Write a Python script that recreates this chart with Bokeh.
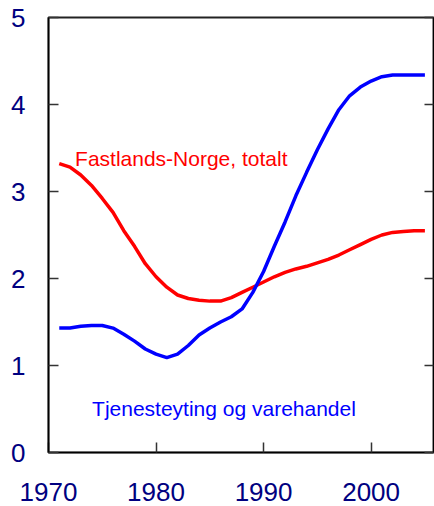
from bokeh.plotting import figure
from bokeh.models import Range1d, FixedTicker, LinearAxis, Label
from bokeh.embed import file_html
from bokeh.resources import INLINE

years = list(range(1971, 2006))
fastland = [3.32, 3.28, 3.19, 3.07, 2.92, 2.76, 2.55, 2.37, 2.17, 2.02,
            1.90, 1.81, 1.77, 1.75, 1.74, 1.74, 1.78, 1.84, 1.90, 1.96,
            2.02, 2.07, 2.11, 2.14, 2.18, 2.22, 2.27, 2.33, 2.39, 2.45,
            2.50, 2.53, 2.54, 2.55, 2.55]
tjeneste = [1.43, 1.43, 1.45, 1.46, 1.46, 1.43, 1.36, 1.28, 1.19, 1.13,
            1.09, 1.13, 1.23, 1.35, 1.43, 1.50, 1.56, 1.65, 1.84, 2.08,
            2.37, 2.65, 2.95, 3.22, 3.48, 3.72, 3.94, 4.10, 4.20, 4.27,
            4.32, 4.34, 4.34, 4.34, 4.34]
x_ticks = [1970, 1980, 1990, 2000]
y_ticks = [0, 1, 2, 3, 4, 5]
label_fast = "Fastlands-Norge, totalt"
label_tjen = "Tjenesteyting og varehandel"

FONT = "Liberation Sans"
NAVY = "#000080"

p = figure(width=434, height=506, output_backend="svg", toolbar_location=None,
           x_range=Range1d(1970, 2005.8), y_range=Range1d(0, 5),
           min_border_left=48, min_border_top=17, min_border_right=1,
           min_border_bottom=54)
p.grid.visible = False
p.outline_line_color = "#222222"
p.outline_line_width = 2

for ax in (p.xaxis[0], p.yaxis[0]):
    ax.major_label_text_font = FONT
    ax.major_label_text_font_size = "26px"
    ax.major_label_text_color = NAVY
    ax.major_tick_in = 10
    ax.major_tick_out = 0
    ax.minor_tick_line_color = None
    ax.axis_line_color = "black"
    ax.axis_line_width = 1.5
    ax.major_tick_line_color = "#333333"
    ax.major_tick_line_width = 1.5

p.xaxis.ticker = FixedTicker(ticks=x_ticks)
p.yaxis.ticker = FixedTicker(ticks=y_ticks)
p.xaxis.major_label_standoff = 30
p.yaxis.major_label_standoff = 23

ra = LinearAxis(ticker=FixedTicker(ticks=y_ticks))
ra.major_label_overrides = {t: "" for t in y_ticks}
ra.major_label_standoff = 0
ra.major_tick_in = 9
ra.major_tick_out = 0
ra.minor_tick_line_color = None
ra.major_tick_line_color = "#333333"
ra.major_tick_line_width = 1.5
ra.axis_line_color = "black"
p.add_layout(ra, "right")

p.line(years, fastland, line_color="#ff0000", line_width=3.5)
p.line(years, tjeneste, line_color="#0000ff", line_width=3.5)

p.add_layout(Label(x=1972.47, y=3.38, text=label_fast, text_color="#ff0000",
                   text_font=FONT, text_font_size="21px",
                   text_baseline="alphabetic"))
p.add_layout(Label(x=1974.05, y=0.51, text=label_tjen, text_color="#0000ff",
                   text_font=FONT, text_font_size="21px",
                   text_baseline="alphabetic"))

open("out.html", "w").write(file_html(p, INLINE))
